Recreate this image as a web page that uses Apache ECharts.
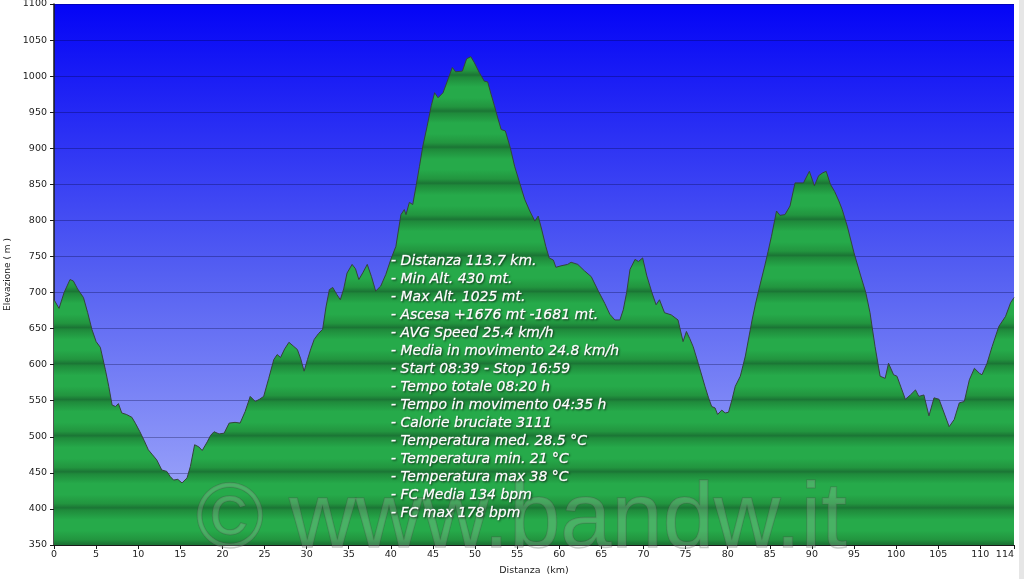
<!DOCTYPE html>
<html>
<head>
<meta charset="utf-8">
<script src="https://cdn.jsdelivr.net/npm/echarts@6/dist/echarts.min.js"></script>
<style>
html,body{margin:0;padding:0;background:#fff;}
#c{width:1024px;height:579px;}
</style>
</head>
<body>
<div id="c"></div>
<script>
// ---- data ----
const distKm = [0,0.6,1.2,1.9,2.3,2.8,3.5,4.0,4.5,5.0,5.5,6.1,6.5,6.9,7.3,7.65,8.05,8.6,9.25,9.7,10.2,10.7,11.2,11.7,12.2,12.8,13.4,13.8,14.2,14.7,15.2,15.8,16.2,16.7,17.2,17.6,18.2,18.6,19.0,19.6,20.2,20.8,21.5,22.1,22.7,23.3,23.9,24.4,24.9,25.5,26.1,26.5,26.9,27.4,27.9,28.4,28.9,29.3,29.7,30.1,30.5,30.9,31.4,31.9,32.3,32.7,33.1,33.6,34.0,34.4,34.8,35.4,35.8,36.2,36.7,37.2,37.7,38.2,38.8,39.4,40.0,40.6,41.2,41.6,41.8,42.2,42.6,43.0,43.4,43.8,44.3,44.8,45.2,45.6,46.2,46.8,47.3,47.7,48.5,49.0,49.5,49.9,50.5,51.1,51.5,51.9,52.3,52.7,53.1,53.6,54.2,54.7,55.3,55.9,56.5,57.1,57.5,57.9,58.4,58.8,59.3,59.6,60.2,61.0,61.4,62.2,63.0,63.8,64.6,65.4,66.0,66.6,67.2,67.6,68.0,68.4,69.0,69.4,69.9,70.4,71.0,71.5,71.9,72.5,73.3,74.1,74.7,75.1,75.5,75.9,76.5,77.3,77.7,78.1,78.5,78.8,79.3,79.7,80.1,80.5,80.9,81.5,82.1,82.5,82.9,83.3,83.7,84.4,84.8,85.2,85.8,86.2,86.8,87.4,88.0,89.0,89.7,90.3,90.8,91.3,91.7,92.2,92.7,93.2,93.6,94.2,95.0,95.8,96.4,96.9,97.5,98.1,98.7,99.1,99.7,100.1,100.6,101.1,101.7,102.3,102.7,103.3,103.9,104.5,105.1,105.7,106.3,106.9,107.5,108.1,108.7,109.3,109.9,110.2,110.8,111.4,112.2,113.0,113.6,114];
const elevM = [690,678,700,718,716,705,693,672,649,632,624,593,570,544,542,546,533,531,527,518,507,495,482,475,468,454,452,445,440,441,436,443,459,489,486,481,493,502,507,504,505,519,520,519,535,556,549,552,556,581,607,614,610,622,631,626,621,608,591,607,622,635,643,649,680,704,707,697,690,705,727,739,733,718,728,739,722,702,709,725,746,764,808,815,808,825,822,848,875,903,930,959,977,970,977,996,1012,1006,1007,1024,1027,1019,1005,993,992,975,959,942,926,924,900,875,852,829,813,799,806,788,764,748,745,735,737,739,742,739,730,722,703,685,670,662,662,676,700,732,746,743,748,723,700,683,690,672,669,662,632,646,636,625,602,570,555,542,540,531,537,533,534,551,570,584,612,637,662,684,704,737,757,778,813,807,808,820,852,852,868,848,862,866,868,850,840,827,815,792,755,723,700,672,625,584,581,602,586,584,568,552,558,565,556,558,529,554,552,533,514,524,547,549,579,595,588,586,602,625,653,667,686,693];
const statsLines = [
  "- Distanza 113.7 km.",
  "- Min Alt. 430 mt.",
  "- Max Alt. 1025 mt.",
  "- Ascesa +1676 mt -1681 mt.",
  "- AVG Speed 25.4 km/h",
  "- Media in movimento 24.8 km/h",
  "- Start 08:39 - Stop 16:59",
  "- Tempo totale 08:20 h",
  "- Tempo in movimento 04:35 h",
  "- Calorie bruciate 3111",
  "- Temperatura med. 28.5 \u00B0C",
  "- Temperatura min. 21 \u00B0C",
  "- Temperatura max 38 \u00B0C",
  "- FC Media 134 bpm",
  "- FC max 178 bpm"
];
const xAxisName = "Distanza  (km)";
const yAxisName = "Elevazione ( m )";
const watermark = "\u00A9 www.bandw.it";
const yMin = 350, yMax = 1100, yStep = 50;
const xMin = 0, xMax = 114, xStep = 5;

// ---- chart ----
const gTop = 4, gBottom = 34, gLeft = 54, gRight = 10;
const H = 579;
const plotTop = gTop, plotBottom = H - gBottom;
const nb = (yMax - yMin) / yStep;
const light = '#26aa4a', mid = '#22953f', dark = '#1b7535', edge = '#1f8a3b';
const stops = [];
for (let i = 0; i < nb; i++) {
  const o0 = i / nb, o1 = (i + 1) / nb, d = o1 - o0;
  stops.push({offset: o0 + d * 0.03, color: edge});
  stops.push({offset: o0 + d * 0.3, color: light});
  stops.push({offset: o0 + d * 0.6, color: light});
  stops.push({offset: o0 + d * 0.85, color: mid});
  stops.push({offset: o1 - d * 0.03, color: dark});
}
const greenFill = new echarts.graphic.LinearGradient(0, plotTop, 0, plotBottom, stops, true);

const chart = echarts.init(document.getElementById('c'), null, {renderer: 'canvas'});
const fontFam = 'DejaVu Sans, Verdana, sans-serif';
chart.setOption({
  animation: false,
  backgroundColor: '#ffffff',
  grid: {
    left: gLeft, right: gRight, top: gTop, bottom: gBottom,
    outerBoundsMode: 'none',
    containLabel: false,
    show: true,
    borderWidth: 0,
    backgroundColor: new echarts.graphic.LinearGradient(0, 0, 0, 1, [
      {offset: 0, color: '#0404f6'},
      {offset: 0.5, color: '#5560f2'},
      {offset: 1, color: '#a9b1fb'}
    ])
  },
  xAxis: {
    type: 'value', min: xMin, max: xMax, interval: xStep,
    name: xAxisName, nameLocation: 'middle', nameGap: 21,
    nameTextStyle: {color: '#222', fontSize: 9.5, fontFamily: fontFam},
    axisLine: {lineStyle: {color: '#1a1a1a', width: 1}},
    axisTick: {show: true, length: 4, lineStyle: {color: '#1a1a1a'}},
    axisLabel: {color: '#222', fontSize: 9.5, fontFamily: fontFam, margin: 5, alignMaxLabel: 'right', formatter: v => String(v)},
    splitLine: {show: false}
  },
  yAxis: {
    type: 'value', min: yMin, max: yMax, interval: yStep,
    name: yAxisName, nameLocation: 'middle', nameGap: 40, nameRotate: 90,
    nameTextStyle: {color: '#222', fontSize: 9, fontFamily: fontFam},
    axisLine: {show: true, lineStyle: {color: '#1a1a1a', width: 1.5}},
    axisTick: {show: true, length: 4, lineStyle: {color: '#1a1a1a'}},
    axisLabel: {color: '#222', fontSize: 9.5, fontFamily: fontFam, margin: 7, formatter: v => String(v)},
    splitLine: {show: true, lineStyle: {color: 'rgba(0,0,50,0.3)', width: 1}}
  },
  series: [{
    type: 'line',
    data: distKm.map((d, i) => [d, elevM[i]]),
    symbol: 'none',
    lineStyle: {color: '#34443a', width: 1},
    areaStyle: {color: greenFill, opacity: 1, origin: 'start'},
    z: 2
  }],
  graphic: [
    {
      type: 'rect', left: 1019, top: 0, z: 0,
      shape: {width: 5, height: 579},
      style: {fill: '#e6e6e6'}
    },
    {
      type: 'text', x: 196, y: 522, z: 50,
      style: {
        text: watermark,
        font: '92px "Liberation Sans", Arial, sans-serif',
        fill: 'rgba(200,210,200,0.22)',
        stroke: 'rgba(70,80,70,0.3)',
        lineWidth: 1.5,
        verticalAlign: 'middle'
      }
    },
    {
      type: 'text', x: 391, y: 252, z: 60,
      style: {
        text: statsLines.join('\n'),
        font: 'italic 14px "DejaVu Sans", Verdana, sans-serif',
        lineHeight: 18,
        fill: '#ffffff',
        stroke: 'rgba(255,255,255,0.7)',
        lineWidth: 0.5,
        textShadowColor: 'rgba(0,0,0,0.55)',
        textShadowBlur: 2,
        textShadowOffsetX: 1,
        textShadowOffsetY: 1
      }
    }
  ]
});
</script>
</body>
</html>
